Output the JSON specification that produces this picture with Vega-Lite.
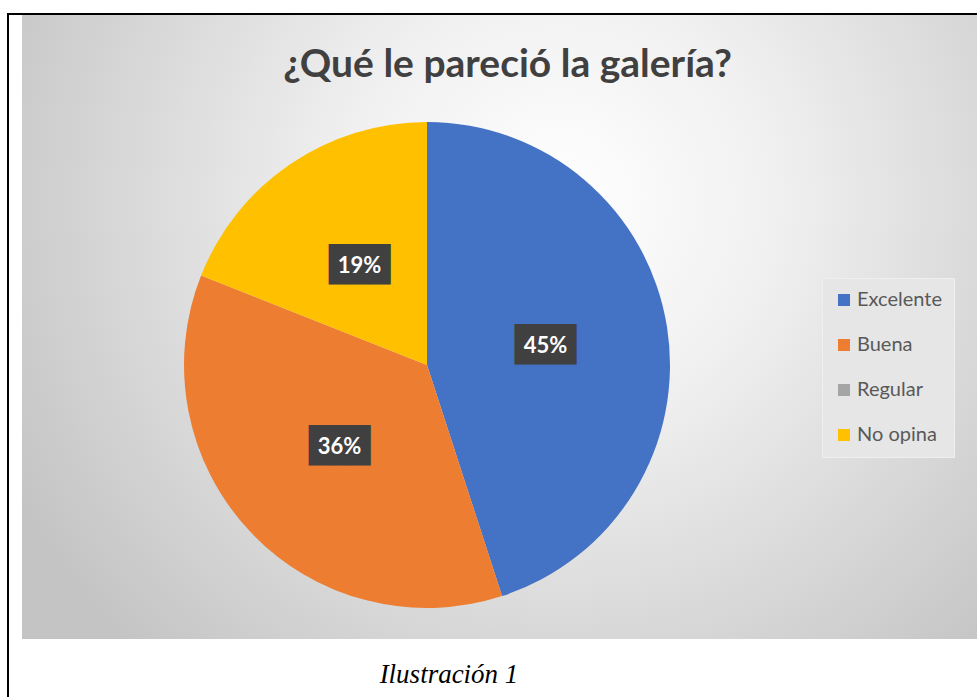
{
  "$schema": "https://vega.github.io/schema/vega-lite/v6.json",
  "background": "white",
  "padding": {"left": 7, "top": 13, "right": 0, "bottom": 0},
  "spacing": 0,
  "config": {"view": {"stroke": null}, "concat": {"spacing": 0}},
  "vconcat": [
    {
      "data": {"values": []},
      "mark": "rect",
      "encoding": {},
      "width": 970,
      "height": 2,
      "view": {"fill": "#000000", "stroke": null}
    },
    {
      "spacing": 0,
      "hconcat": [
        {
          "data": {"values": []},
          "mark": "rect",
          "encoding": {},
          "width": 2,
          "height": 682,
          "view": {"fill": "#000000", "stroke": null}
        },
        {
          "data": {"values": []},
          "mark": "rect",
          "encoding": {},
          "width": 13,
          "height": 682
        },
        {
          "spacing": 0,
          "vconcat": [
            {
              "width": 955,
              "height": 76,
              "view": {
                "stroke": null,
                "fill": {
                  "gradient": "radial",
                  "x1": 0.5634, "y1": 0.6539, "r1": 0,
                  "x2": 0.5634, "y2": 0.6539, "r2": 0.6492,
                  "stops": [
                    {"offset": 0, "color": "#ffffff"},
                    {"offset": 0.35, "color": "#f0f0f0"},
                    {"offset": 1, "color": "#c4c4c4"}
                  ]
                }
              },
              "data": {"values": [{"titulo": "¿Qué le pareció la galería?"}]},
              "mark": {
                "type": "text",
                "font": "Lato",
                "fontSize": 39,
                "fontWeight": "bold",
                "fill": "#404040",
                "baseline": "alphabetic",
                "align": "center",
                "dx": 8,
                "dy": 24
              },
              "encoding": {"text": {"field": "titulo", "type": "nominal"}}
            },
            {
              "spacing": 0,
              "hconcat": [
                {
                  "width": 810,
                  "height": 548,
                  "view": {
                    "stroke": null,
                    "fill": {
                      "gradient": "radial",
                      "x1": 0.6642, "y1": 0.2963, "r1": 0,
                      "x2": 0.6642, "y2": 0.2963, "r2": 0.7654,
                      "stops": [
                        {"offset": 0, "color": "#ffffff"},
                        {"offset": 0.35, "color": "#f0f0f0"},
                        {"offset": 1, "color": "#c4c4c4"}
                      ]
                    }
                  },
                  "data": {
                    "values": [
                      {"categoria": "Excelente", "pct": 0.45},
                      {"categoria": "Buena", "pct": 0.36},
                      {"categoria": "Regular", "pct": 0},
                      {"categoria": "No opina", "pct": 0.19}
                    ]
                  },
                  "encoding": {
                    "theta": {"field": "pct", "type": "quantitative", "stack": true},
                    "order": {"field": "pct", "sort": "descending"}
                  },
                  "layer": [
                    {
                      "mark": {"type": "arc", "outerRadius": 243},
                      "encoding": {
                        "color": {
                          "field": "categoria",
                          "type": "nominal",
                          "scale": {
                            "domain": ["Excelente", "Buena", "Regular", "No opina"],
                            "range": ["#4472C4", "#ED7D31", "#A5A5A5", "#FFC000"]
                          },
                          "legend": {
                            "title": null,
                            "orient": "none",
                            "legendX": 815,
                            "legendY": 265,
                            "direction": "vertical",
                            "symbolType": "square",
                            "symbolSize": 144,
                            "symbolStrokeWidth": 0,
                            "labelFont": "Lato",
                            "labelFontSize": 20,
                            "labelColor": "#595959",
                            "labelOffset": 3,
                            "labelLimit": 250,
                            "rowPadding": 25,
                            "padding": 12,
                            "fillColor": "#e6e6e6",
                            "strokeColor": "#efefef"
                          }
                        }
                      }
                    },
                    {
                      "transform": [{"filter": "datum.pct > 0"}],
                      "mark": {
                        "type": "text",
                        "radius": 120,
                        "text": "███",
                        "font": "DejaVu Sans Mono",
                        "fontSize": 34,
                        "fill": "#404040"
                      },
                      "encoding": {}
                    },
                    {
                      "transform": [{"filter": "datum.pct > 0"}],
                      "mark": {
                        "type": "text",
                        "radius": 120,
                        "font": "Lato",
                        "fontSize": 22,
                        "fontWeight": "bold",
                        "fill": "#ffffff"
                      },
                      "encoding": {"text": {"field": "pct", "type": "quantitative", "format": ".0%"}}
                    }
                  ]
                },
                {
                  "data": {"values": []},
                  "mark": "rect",
                  "encoding": {},
                  "width": 145,
                  "height": 548,
                  "view": {
                    "stroke": null,
                    "fill": {
                      "gradient": "radial",
                      "x1": -0.1287, "y1": 0.1989, "r1": 0,
                      "x2": -0.1287, "y2": 0.1989, "r2": 1.1314,
                      "stops": [
                        {"offset": 0, "color": "#ffffff"},
                        {"offset": 0.35, "color": "#f0f0f0"},
                        {"offset": 1, "color": "#c4c4c4"}
                      ]
                    }
                  }
                }
              ]
            },
            {
              "width": 854,
              "height": 58,
              "data": {"values": [{"leyenda": "Ilustración 1"}]},
              "mark": {
                "type": "text",
                "font": "Liberation Serif",
                "fontSize": 27,
                "fontStyle": "italic",
                "fill": "#000000",
                "baseline": "alphabetic",
                "align": "center",
                "dy": 15
              },
              "encoding": {"text": {"field": "leyenda", "type": "nominal"}}
            }
          ]
        }
      ]
    }
  ]
}
